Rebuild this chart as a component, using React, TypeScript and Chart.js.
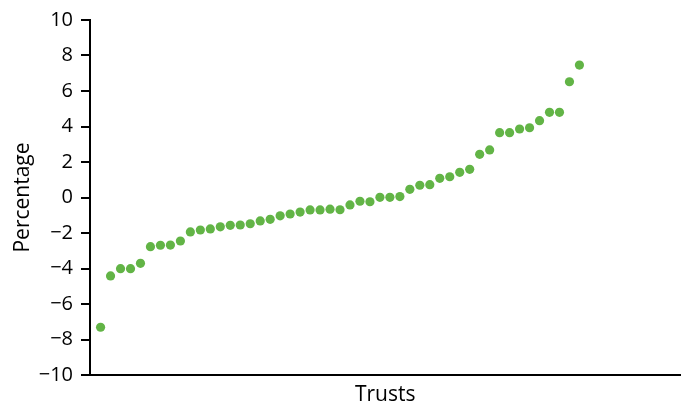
import React, { useEffect, useRef } from "react";
import { Chart, registerables } from "chart.js";

Chart.register(...registerables);

const values: number[] = [
  -7.31, -4.42, -4.01, -4.01, -3.71, -2.77, -2.69, -2.68, -2.45, -1.94,
  -1.83, -1.77, -1.65, -1.57, -1.55, -1.48, -1.32, -1.23, -1.03, -0.93,
  -0.82, -0.7, -0.7, -0.66, -0.69, -0.42, -0.21, -0.24, 0.01, 0.01,
  0.05, 0.46, 0.69, 0.72, 1.08, 1.17, 1.42, 1.59, 2.43, 2.68,
  3.65, 3.65, 3.86, 3.93, 4.33, 4.8, 4.8, 6.52, 7.46,
];
const trustRanks: number[] = values.map((_, i) => i + 1);
const yTicks: number[] = [-10, -8, -6, -4, -2, 0, 2, 4, 6, 8, 10];

const FONT = "'Open Sans', 'Noto Sans', sans-serif";

export default function App() {
  const ref = useRef<HTMLCanvasElement | null>(null);

  useEffect(() => {
    document.body.style.margin = "0";
    if (!ref.current) return;
    const chart = new Chart(ref.current, {
      type: "scatter",
      data: {
        datasets: [
          {
            data: values.map((v, i) => ({ x: trustRanks[i], y: v })),
            backgroundColor: "#62b446",
            borderColor: "#62b446",
            borderWidth: 0,
            pointRadius: 4.6,
          },
        ],
      },
      options: {
        animation: false,
        responsive: false,
        devicePixelRatio: 1,
        layout: { padding: { top: 20, right: 0, left: 0, bottom: 0 } },
        plugins: { legend: { display: false }, tooltip: { enabled: false } },
        scales: {
          x: {
            type: "linear",
            min: -0.06,
            max: 59.12,
            ticks: { display: false },
            grid: { display: false },
            border: { display: true, color: "#000", width: 2 },
            title: {
              display: true,
              text: "Trusts",
              color: "#000",
              font: { family: FONT, size: 21 },
              padding: { top: 0, bottom: 0 },
            },
            afterFit: (s: any) => {
              s.height = 33;
            },
          },
          y: {
            min: -10,
            max: 10,
            afterBuildTicks: (s: any) => {
              s.ticks = yTicks.map((v) => ({ value: v }));
            },
            ticks: {
              color: "#000",
              font: { family: FONT, size: 20 },
              padding: 8,
              callback: (v: any) => String(v).replace("-", "\u2212"),
            },
            grid: {
              drawOnChartArea: false,
              drawTicks: true,
              tickLength: 9,
              color: "#000",
              lineWidth: 2,
            },
            border: { display: true, color: "#000", width: 2 },
            title: {
              display: true,
              text: "Percentage",
              color: "#000",
              font: { family: FONT, size: 21 },
              padding: { top: 10, bottom: 0 },
            },
            afterFit: (s: any) => {
              s.width = 90;
            },
          },
        },
      },
    });
    return () => chart.destroy();
  }, []);

  return (
    <div style={{ width: 685, height: 408 }}>
      <canvas ref={ref} width={685} height={408} />
    </div>
  );
}
